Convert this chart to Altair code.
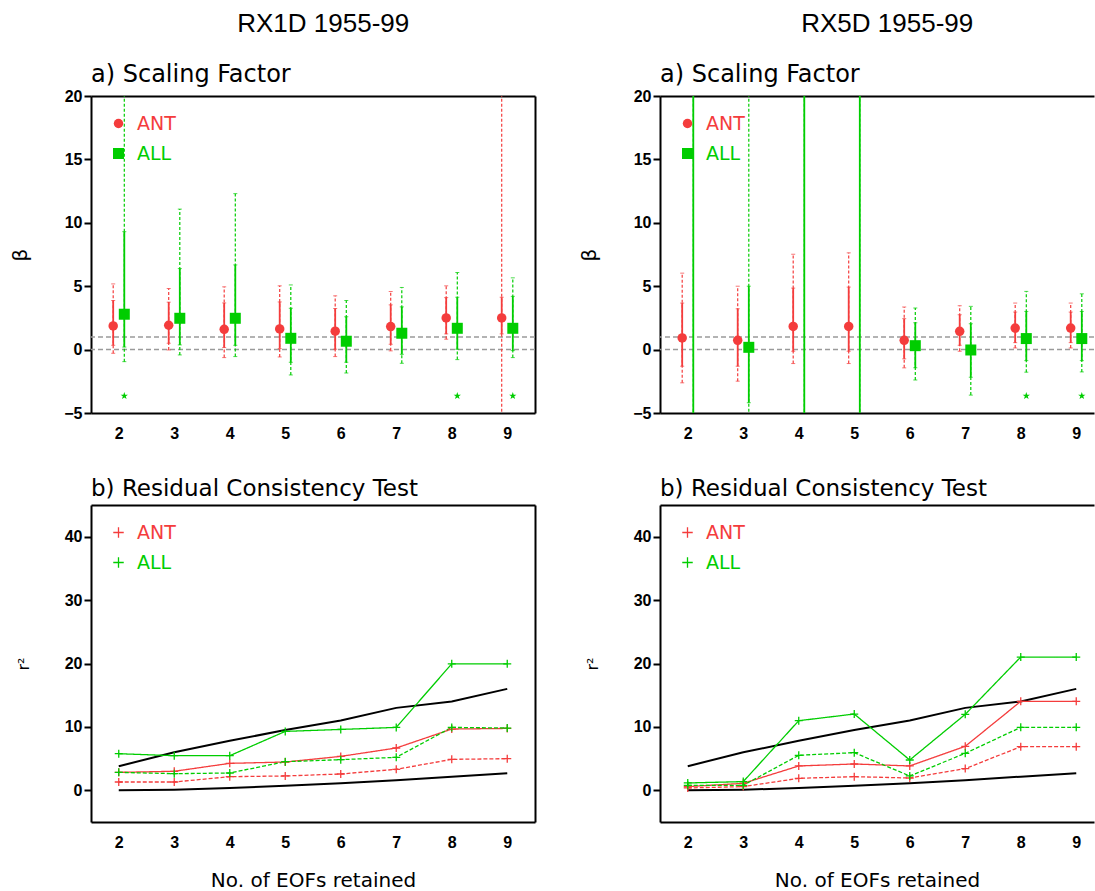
import altair as alt
import pandas as pd

EOFS = [2, 3, 4, 5, 6, 7, 8, 9]
SERIES = ["ANT", "ALL"]
RED = "#f43c3c"
GREEN = "#00cd00"

# ---------------- a) Scaling factor : best estimate, inner (solid) and outer (dashed) ranges
rx1d_ant_best = [1.87, 1.92, 1.60, 1.63, 1.45, 1.82, 2.50, 2.50]
rx1d_ant_lo_in = [0.34, 0.50, 0.16, 0.08, 0.03, 0.42, 1.24, 1.24]
rx1d_ant_hi_in = [3.87, 3.74, 3.68, 3.76, 3.24, 3.53, 4.10, 4.13]
rx1d_ant_lo_out = [-0.29, -0.03, -0.63, -0.58, -0.55, -0.10, 0.82, -40.0]
rx1d_ant_hi_out = [5.18, 4.82, 4.95, 5.03, 4.24, 4.58, 5.03, 60.0]

rx1d_all_best = [2.79, 2.47, 2.47, 0.89, 0.66, 1.29, 1.68, 1.68]
rx1d_all_lo_in = [0.20, 0.37, 0.34, -1.00, -1.00, -0.37, 0.03, -0.08]
rx1d_all_hi_in = [9.30, 6.39, 6.68, 3.26, 2.60, 3.37, 4.13, 4.20]
rx1d_all_lo_out = [-0.95, -0.42, -0.55, -2.00, -1.84, -1.08, -0.79, -0.63]
rx1d_all_hi_out = [60.0, 11.08, 12.30, 5.10, 3.87, 4.90, 6.08, 5.66]

rx5d_ant_best = [0.92, 0.73, 1.83, 1.83, 0.73, 1.44, 1.70, 1.70]
rx5d_ant_lo_in = [-1.31, -1.31, -0.13, -0.13, -0.73, 0.34, 0.55, 0.55]
rx5d_ant_hi_in = [3.67, 3.22, 4.85, 4.93, 2.44, 2.75, 2.96, 2.96]
rx5d_ant_lo_out = [-2.62, -2.49, -1.10, -1.10, -1.44, -0.13, 0.13, 0.13]
rx5d_ant_hi_out = [6.03, 5.00, 7.52, 7.63, 3.36, 3.46, 3.67, 3.67]

rx5d_all_best = [None, 0.18, None, None, 0.31, -0.03, 0.87, 0.87]
rx5d_all_lo_in = [-40.0, -4.19, -40.0, -40.0, -1.44, -2.18, -0.87, -0.87]
rx5d_all_hi_in = [60.0, 5.00, 60.0, 60.0, 2.12, 2.04, 3.01, 3.01]
rx5d_all_lo_out = [-40.0, -40.0, -40.0, -40.0, -2.39, -3.59, -1.78, -1.76]
rx5d_all_hi_out = [60.0, 60.0, 60.0, 60.0, 3.28, 3.41, 4.59, 4.40]

rx1d_star_eofs = [2, 8, 9]
rx5d_star_eofs = [8, 9]
star_level = -3.65
ref_levels = [0, 1]
beta_ticks = [-5, 0, 5, 10, 15, 20]

# ---------------- b) Residual consistency test
chi_upper = [3.8, 6.0, 7.8, 9.5, 11.0, 13.0, 14.0, 16.0]
chi_lower = [0.0, 0.1, 0.35, 0.7, 1.1, 1.6, 2.15, 2.7]

rx1d_ant_solid = [2.83, 3.00, 4.25, 4.46, 5.35, 6.67, 9.66, 9.76]
rx1d_ant_dashed = [1.31, 1.31, 2.15, 2.26, 2.57, 3.31, 4.88, 4.99]
rx1d_all_solid = [5.77, 5.46, 5.46, 9.29, 9.60, 9.92, 19.95, 19.95]
rx1d_all_dashed = [2.83, 2.62, 2.73, 4.51, 4.83, 5.20, 9.92, 9.82]

rx5d_ant_solid = [0.58, 1.10, 3.84, 4.15, 3.84, 6.94, 14.03, 14.03]
rx5d_ant_dashed = [0.37, 0.58, 1.89, 2.15, 1.94, 3.42, 6.88, 6.88]
rx5d_all_solid = [1.16, 1.37, 10.98, 12.03, 4.78, 11.98, 21.02, 21.02]
rx5d_all_dashed = [0.79, 0.79, 5.52, 5.94, 2.26, 5.83, 9.93, 9.93]
r2_ticks = [0, 10, 20, 30, 40]

PLUS = "M-1,0H1M0,-1V1"
STAR = ("M0,-1L0.235,-0.324L0.951,-0.309L0.38,0.124L0.588,0.809L0,0.4"
        "L-0.588,0.809L-0.38,0.124L-0.951,-0.309L-0.235,-0.324Z")

TXT_FONT = "DejaVu Sans"
TXT_WEIGHT = "normal"
TICK_FONT = "Liberation Sans"
LABEL_EXPR = "datum.value === 'ANT' ? '%s' : '%s'" % (RED, GREEN)

PANEL_H = 317
W_LEFT = 444
W_RIGHT = 434
PX_PER_EOF = 55.5
XMAX_LEFT = 1.5 + W_LEFT / PX_PER_EOF
XMAX_RIGHT = 1.5 + W_RIGHT / PX_PER_EOF


def ax_bottom(title=None):
    return alt.Axis(orient="bottom", values=EOFS, format="d", ticks=False,
                    labelPadding=12, title=title, titlePadding=20,
                    titleFontSize=20, titleFont=TXT_FONT, titleFontWeight=TXT_WEIGHT)


def ax_top():
    return alt.Axis(orient="top", labels=False, ticks=False, title=None)


def ax_left(values, title, tsize):
    return alt.Axis(orient="left", values=values, format="d", tickSize=7,
                    tickWidth=2, labelPadding=2, title=title,
                    titlePadding=33, titleFontSize=tsize, titleFont=TXT_FONT)


def ax_right():
    return alt.Axis(orient="right", labels=False, ticks=False, title=None)


def make_legend(symbol_type=None, size=None):
    kw = dict(title=None, orient="top-left", offset=18, padding=0,
              rowPadding=10, labelOffset=9,
              labelFont=TXT_FONT, labelFontSize=19, labelFontWeight=TXT_WEIGHT,
              labelColor=alt.ExprRef(LABEL_EXPR))
    if size:
        kw.update(symbolSize=size)
    if symbol_type:
        kw.update(symbolType=symbol_type, symbolStrokeWidth=1.3,
                  symbolFillColor="transparent")
    return alt.Legend(**kw)


def finish(layer, width, title, offset, fsize):
    return layer.resolve_axis(x="independent", y="independent").resolve_legend(
        color="independent", shape="independent", size="independent",
        strokeDash="independent").properties(
        width=width, height=PANEL_H,
        title=alt.TitleParams(title, anchor="start", frame="group",
                              baseline="alphabetic", offset=offset, font=TXT_FONT,
                              fontSize=fsize, fontWeight=TXT_WEIGHT, color="black"))


def sf_panel(ant, allx, star_eofs, width, xmax, right_border):
    rows = []
    for name, d in (("ANT", ant), ("ALL", allx)):
        best, lo_in, hi_in, lo_out, hi_out = d
        for i, e in enumerate(EOFS):
            rows.append({"eof": e, "series": name, "best": best[i],
                         "lo_in": lo_in[i], "hi_in": hi_in[i],
                         "lo_out": lo_out[i], "hi_out": hi_out[i]})
    df = pd.DataFrame(rows)
    xs = alt.Scale(domain=[1.5, xmax], nice=False, zero=False)
    ys = alt.Scale(domain=[-5, 20], nice=False, zero=False)
    cs = alt.Scale(domain=SERIES, range=[RED, GREEN])
    color_nl = alt.Color("series:N", scale=cs, legend=None)
    base = alt.Chart(df).transform_calculate(
        xp="datum.eof + (datum.series === 'ANT' ? -0.1 : 0.1)")

    ref = alt.Chart(pd.DataFrame({"ref": ref_levels})).mark_rule(
        color="#9a9a9a", strokeDash=[5, 3], strokeWidth=1.5).encode(
        y=alt.Y("ref:Q", scale=ys, axis=ax_right() if right_border else None))
    outer = base.mark_rule(strokeDash=[3, 2], strokeWidth=1.2, clip=True).encode(
        x=alt.X("xp:Q", scale=xs, axis=ax_bottom(None)),
        y=alt.Y("lo_out:Q", scale=ys, axis=ax_left(beta_ticks, "β", 20)),
        y2="hi_out:Q", color=color_nl)
    inner = base.mark_rule(strokeWidth=1.8, clip=True).encode(
        x=alt.X("xp:Q", axis=None), y=alt.Y("lo_in:Q", axis=None),
        y2="hi_in:Q", color=color_nl)
    caps = base.transform_fold(["lo_in", "hi_in", "lo_out", "hi_out"],
                               as_=["k", "v"]).mark_tick(
        orient="horizontal", size=4, thickness=1, clip=True).encode(
        x=alt.X("xp:Q", axis=None), y=alt.Y("v:Q", axis=None), color=color_nl)
    leg = make_legend()
    pts = base.mark_point(filled=True, opacity=1, clip=True).encode(
        x=alt.X("xp:Q", axis=None), y=alt.Y("best:Q", axis=None),
        color=alt.Color("series:N", scale=cs, legend=leg),
        shape=alt.Shape("series:N", scale=alt.Scale(domain=SERIES, range=["circle", "square"]), legend=leg),
        size=alt.Size("series:N", scale=alt.Scale(domain=SERIES, range=[90, 121]), legend=leg))
    stars = alt.Chart(pd.DataFrame({"eof": star_eofs, "v": [star_level] * len(star_eofs)})).transform_calculate(
        xp="datum.eof + 0.1").mark_point(shape=STAR, filled=True, size=60, color=GREEN, opacity=1).encode(
        x=alt.X("xp:Q", axis=ax_top()), y=alt.Y("v:Q", axis=None))
    return finish(alt.layer(ref, outer, inner, caps, pts, stars), width,
                  "a) Scaling Factor", -18, 24)


def rc_panel(ant_s, ant_d, all_s, all_d, width, xmax, right_border):
    rows = []
    for name, kind, vals in (("ANT", "solid", ant_s), ("ANT", "dashed", ant_d),
                             ("ALL", "solid", all_s), ("ALL", "dashed", all_d)):
        for e, v in zip(EOFS, vals):
            rows.append({"eof": e, "series": name, "kind": kind, "v": v})
    df = pd.DataFrame(rows)
    brows = []
    for bname, vals in (("upper", chi_upper), ("lower", chi_lower)):
        for e, v in zip(EOFS, vals):
            brows.append({"eof": e, "bound": bname, "v": v})
    bdf = pd.DataFrame(brows)
    xs = alt.Scale(domain=[1.5, xmax], nice=False, zero=False)
    ys = alt.Scale(domain=[-5, 45], nice=False, zero=False)
    cs = alt.Scale(domain=SERIES, range=[RED, GREEN])

    bounds = alt.Chart(bdf).mark_line(color="black", strokeWidth=2, clip=True).encode(
        x=alt.X("eof:Q", scale=xs, axis=ax_top()),
        y=alt.Y("v:Q", scale=ys, axis=ax_right() if right_border else None),
        detail="bound:N")
    lines = alt.Chart(df).mark_line(strokeWidth=1.3, clip=True).encode(
        x=alt.X("eof:Q", axis=ax_bottom("No. of EOFs retained")),
        y=alt.Y("v:Q", axis=ax_left(r2_ticks, "r²", 16)),
        color=alt.Color("series:N", scale=cs, legend=None),
        strokeDash=alt.StrokeDash("kind:N", scale=alt.Scale(domain=["solid", "dashed"], range=[[1, 0], [4, 2]]), legend=None),
        detail="kind:N")
    pts = alt.Chart(df).mark_point(shape=PLUS, filled=False, size=64, strokeWidth=1.3,
                                   opacity=1, clip=True).encode(
        x=alt.X("eof:Q", axis=None), y=alt.Y("v:Q", axis=None),
        color=alt.Color("series:N", scale=cs, legend=make_legend(PLUS, 110)))
    return finish(alt.layer(bounds, lines, pts), width,
                  "b) Residual Consistency Test", -14, 23)


def column(title, top, bottom):
    return alt.vconcat(top, bottom, spacing=92, bounds="flush").resolve_scale(
        x="independent", y="independent", color="independent",
        shape="independent", size="independent", strokeDash="independent"
    ).properties(title=alt.TitleParams(title, anchor="middle", frame="bounds", dx=50,
                                       baseline="alphabetic", offset=5,
                                       font="Liberation Sans", fontSize=26,
                                       fontWeight="normal", color="black"))


left = column(
    "RX1D 1955-99",
    sf_panel((rx1d_ant_best, rx1d_ant_lo_in, rx1d_ant_hi_in, rx1d_ant_lo_out, rx1d_ant_hi_out),
             (rx1d_all_best, rx1d_all_lo_in, rx1d_all_hi_in, rx1d_all_lo_out, rx1d_all_hi_out),
             rx1d_star_eofs, W_LEFT, XMAX_LEFT, True),
    rc_panel(rx1d_ant_solid, rx1d_ant_dashed, rx1d_all_solid, rx1d_all_dashed,
             W_LEFT, XMAX_LEFT, True))
right = column(
    "RX5D 1955-99",
    sf_panel((rx5d_ant_best, rx5d_ant_lo_in, rx5d_ant_hi_in, rx5d_ant_lo_out, rx5d_ant_hi_out),
             (rx5d_all_best, rx5d_all_lo_in, rx5d_all_hi_in, rx5d_all_lo_out, rx5d_all_hi_out),
             rx5d_star_eofs, W_RIGHT, XMAX_RIGHT, False),
    rc_panel(rx5d_ant_solid, rx5d_ant_dashed, rx5d_all_solid, rx5d_all_dashed,
             W_RIGHT, XMAX_RIGHT, False))

chart = alt.hconcat(left, right, spacing=43).resolve_scale(
    x="independent", y="independent", color="independent",
    shape="independent", size="independent", strokeDash="independent"
).properties(
    padding={"left": 10, "top": 11, "right": 0, "bottom": 0}
).configure_view(stroke=None).configure_axis(
    grid=False, domainColor="black", domainWidth=2, domainCap="butt",
    labelFont=TICK_FONT, labelFontSize=16, labelFontWeight="bold",
    labelColor="black", tickColor="black", titleColor="black",
    titleFontWeight="normal"
)

chart.save("out.html", embed_options={"renderer": "svg", "actions": False})
